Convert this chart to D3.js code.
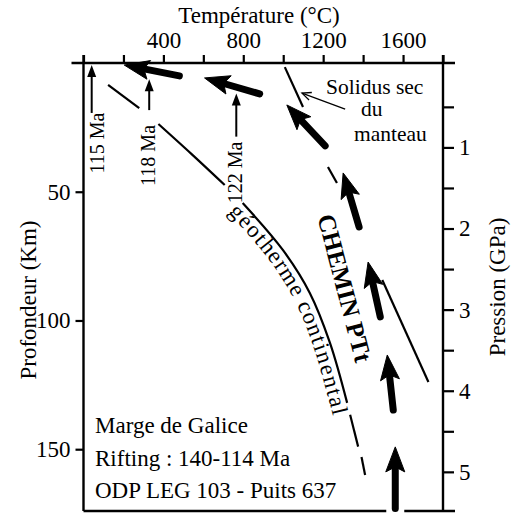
<!DOCTYPE html>
<html><head><meta charset="utf-8">
<script src="https://cdn.jsdelivr.net/npm/d3@7"></script>
<style>
html,body{margin:0;padding:0;background:#fff;}
svg{display:block;}
text{font-family:"Liberation Serif","Times New Roman",serif;fill:#000;}
</style></head>
<body>
<svg id="chart" width="516" height="520"></svg>
<script>
// ---------- DATA ----------
const tempTicks = [0, 200, 400, 600, 800, 1000, 1200, 1400, 1600, 1800];
const tempLabels = [400, 800, 1200, 1600];
const depthTicks = [50, 100, 150];
const pressureTicks = [0.5, 1, 1.5, 2, 2.5, 3, 3.5, 4, 4.5, 5];
const pressureLabels = [1, 2, 3, 4, 5];

// PTt path arrows (temperature °C, depth km): start -> tip
const pathStartT = [480, 882, 1210, 1380, 1486, 1551, 1561];
const pathStartD = [5.0, 12.0, 32.2, 63.7, 98.6, 134.8, 173.0];
const pathTipT   = [204, 606, 1018, 1300, 1425, 1521, 1561];
const pathTipD   = [0.8, 5.8, 16.3, 42.7, 77.3, 113.4, 149.1];

// Continental geotherm (segments separated by gaps)
const geothermSegments = [
  [[123, 8.5], [279, 17.5]],
  [[375, 23.7], [540, 35.3], [707, 47.4]],
  [[797, 54.4], [998, 72.6], [1133, 89.3], [1234, 108.7], [1320, 132.0]],
  [[1335, 136.6], [1375, 149.0]],
  [[1392, 153.0], [1410, 160.0]]
];

// Dry mantle solidus (segments)
const solidusSegments = [
  [[1008, 1.6], [1099, 17.1]],
  [[1224, 40.4], [1269, 46.6]],
  [[1496, 84.3], [1727, 123.9]]
];

// Age markers
const ageLabels = ["115 Ma", "118 Ma", "122 Ma"];
const ageT      = [41, 329, 765];
const ageTipD   = [0.8, 6.3, 11.8];
const ageBaseD  = [19.4, 18.3, 28.6];
const ageTextD  = [31.1, 35.9, 42.5];

const infoLines = ["Marge de Galice", "Rifting : 140-114 Ma", "ODP LEG 103 - Puits 637"];
const solidusLines = ["Solidus sec", "du", "manteau"];

// ---------- SCALES ----------
const svg = d3.select("#chart");
const FS = 23;
const x = d3.scaleLinear().domain([0, 1800]).range([83.5, 443]);
const y = d3.scaleLinear().domain([0, 174]).range([63, 511]);
const p = d3.scaleLinear().domain([0, 5.5]).range([66.3, 512.4]);

const X0 = x(0), X1 = x(1800), Y0 = y(0), Y1 = y(174);

// ---------- AXES ----------
const topAxis = d3.axisTop(x).tickValues(tempTicks).tickSize(8).tickPadding(7)
  .tickFormat(d => tempLabels.includes(d) ? d : "");
const gTop = svg.append("g").attr("transform", `translate(0,${Y0})`).call(topAxis);

const leftAxis = d3.axisLeft(y).tickValues(depthTicks).tickSize(8).tickPadding(5);
const gLeft = svg.append("g").attr("transform", `translate(${X0},0)`).call(leftAxis);

const rightAxis = d3.axisRight(p).tickValues(pressureTicks).tickSize(11).tickPadding(5)
  .tickFormat(d => pressureLabels.includes(d) ? d : "");
const gRight = svg.append("g").attr("transform", `translate(${X1},0)`).call(rightAxis);

[gTop, gLeft, gRight].forEach(g => {
  g.select(".domain").remove();
  g.selectAll("line").attr("stroke", "#000").attr("stroke-width", 2.2);
  g.selectAll("text").attr("font-size", FS).attr("font-family", "Liberation Serif").attr("fill", "#000");
});

// frame
const frame = svg.append("g").attr("stroke", "#000").attr("stroke-width", 2.4).attr("fill", "none");
frame.append("line").attr("x1", X0 - 12).attr("x2", X1 + 12).attr("y1", Y0).attr("y2", Y0);
frame.append("line").attr("x1", X0).attr("x2", X0).attr("y1", Y0 - 8).attr("y2", Y1);
frame.append("line").attr("x1", X1).attr("x2", X1).attr("y1", Y0 - 8).attr("y2", Y1);
frame.append("line").attr("x1", X0).attr("x2", X1 + 12).attr("y1", Y1).attr("y2", Y1);

// axis titles
svg.append("text").attr("x", 259).attr("y", 23).attr("text-anchor", "middle")
  .attr("font-size", FS).text("Température (°C)");
svg.append("text").attr("transform", "translate(36,300) rotate(-90)").attr("text-anchor", "middle")
  .attr("font-size", FS).text("Profondeur (Km)");
svg.append("text").attr("transform", "translate(505,287) rotate(-90)").attr("text-anchor", "middle")
  .attr("font-size", FS).text("Pression (GPa)");

// ---------- LINES ----------
const line = d3.line().x(d => x(d[0])).y(d => y(d[1])).curve(d3.curveCatmullRom);

svg.append("g").selectAll("path").data(geothermSegments).join("path")
  .attr("d", line).attr("fill", "none").attr("stroke", "#000").attr("stroke-width", 2.2);

svg.append("g").selectAll("path").data(solidusSegments).join("path")
  .attr("d", line).attr("fill", "none").attr("stroke", "#000").attr("stroke-width", 2.2);

// hidden full geotherm path for label
const fullGeo = geothermSegments.flat();
const geoPath = svg.append("path").attr("id", "geoPath").attr("d", line(fullGeo))
  .attr("fill", "none").attr("stroke", "none");
function nearestLength(pathNode, px, py) {
  const L = pathNode.getTotalLength();
  let best = 0, bd = Infinity;
  for (let s = 0; s <= L; s += 0.5) {
    const pt = pathNode.getPointAtLength(s);
    const dd = (pt.x - px) ** 2 + (pt.y - py) ** 2;
    if (dd < bd) { bd = dd; best = s; }
  }
  return best;
}
const gStart = nearestLength(geoPath.node(), x(790), y(53.5));
const gEnd = nearestLength(geoPath.node(), x(1336), y(137));
svg.append("text").attr("font-size", FS).attr("dy", 17)
  .append("textPath").attr("href", "#geoPath").attr("startOffset", gStart)
  .attr("textLength", gEnd - gStart - 4).attr("lengthAdjust", "spacing")
  .text("géotherme continental");

// ---------- ARROWS ----------
function thickArrow(g, x0, y0, x1, y1) {
  const dx = x1 - x0, dy = y1 - y0, L = Math.hypot(dx, dy);
  const ux = dx / L, uy = dy / L, nx = -uy, ny = ux;
  const hl = 25, hw = 9.5, notch = 5;
  const bx = x1 - hl * ux, by = y1 - hl * uy;
  const sx = x1 - (hl - notch) * ux, sy = y1 - (hl - notch) * uy;
  g.append("line").attr("x1", x0).attr("y1", y0).attr("x2", sx).attr("y2", sy)
    .attr("stroke", "#000").attr("stroke-width", 7).attr("stroke-linecap", "round");
  g.append("path").attr("d",
    `M${x1},${y1}L${bx + hw * nx},${by + hw * ny}L${sx},${sy}L${bx - hw * nx},${by - hw * ny}Z`)
    .attr("fill", "#000").attr("stroke", "#000").attr("stroke-width", 1).attr("stroke-linejoin", "round");
}
const gArrows = svg.append("g");
pathStartT.forEach((t, i) => {
  thickArrow(gArrows, x(t), y(pathStartD[i]), x(pathTipT[i]), y(pathTipD[i]));
});

// gap in bottom frame where last arrow passes
gArrows.insert("rect", ":first-child")
  .attr("x", x(pathStartT[6]) - 9).attr("y", Y1 - 3).attr("width", 18).attr("height", 6).attr("fill", "#fff");

// thin age arrows
function thinArrow(g, xx, yBase, yTip) {
  g.append("line").attr("x1", xx).attr("x2", xx).attr("y1", yBase).attr("y2", yTip + 10)
    .attr("stroke", "#000").attr("stroke-width", 2);
  g.append("path").attr("d", `M${xx},${yTip}L${xx - 4.5},${yTip + 12}L${xx + 4.5},${yTip + 12}Z`).attr("fill", "#000");
}
const gAge = svg.append("g");
const ageShift = [12, 6, 6];
ageLabels.forEach((lab, i) => {
  thinArrow(gAge, x(ageT[i]), y(ageBaseD[i]), y(ageTipD[i]));
  gAge.append("text").attr("transform", `translate(${x(ageT[i]) + ageShift[i]},${y(ageTextD[i])}) rotate(-90)`)
    .attr("text-anchor", "middle").attr("font-size", 20).text(lab);
});

// solidus pointer
const px0 = x(1310), py0 = y(17.9), px1 = x(1094), py1 = y(11.7);
svg.append("line").attr("x1", px0).attr("y1", py0).attr("x2", px1).attr("y2", py1)
  .attr("stroke", "#000").attr("stroke-width", 1.3);
{
  const dx = px1 - px0, dy = py1 - py0, L = Math.hypot(dx, dy), ux = dx / L, uy = dy / L;
  const a = 9, w = 4;
  svg.append("path").attr("d",
    `M${px1 - a * ux - w * uy},${py1 - a * uy + w * ux}L${px1},${py1}L${px1 - a * ux + w * uy},${py1 - a * uy - w * ux}`)
    .attr("fill", "none").attr("stroke", "#000").attr("stroke-width", 1.3);
}

// solidus label
const solX = [326, 361, 354], solY = [94, 116, 140.5];
solidusLines.forEach((s, i) => {
  svg.append("text").attr("x", solX[i]).attr("y", solY[i]).attr("font-size", 21.5).text(s);
});

// CHEMIN PTt
svg.append("text").attr("transform", "translate(345,288) rotate(75.4)")
  .attr("text-anchor", "middle").attr("dy", "0.35em").attr("font-size", 25).attr("font-weight", "bold")
  .text("CHEMIN PTt");

// info block
infoLines.forEach((s, i) => {
  svg.append("text").attr("x", 95).attr("y", 433 + i * 32.5).attr("font-size", FS).text(s);
});
</script>
</body></html>
